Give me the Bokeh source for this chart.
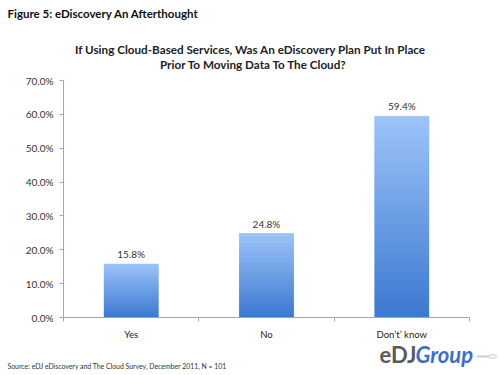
from bokeh.plotting import figure
from bokeh.layouts import column
from bokeh.models import Range1d, FixedTicker, PrintfTickFormatter, Label, ColumnDataSource
from bokeh.embed import file_html
from bokeh.resources import INLINE

# ---- data ----
categories = ["Yes", "No", "Don\u2019t\u2019 know"]
values = [15.8, 24.8, 59.4]
value_labels = ["15.8%", "24.8%", "59.4%"]
y_ticks = [0, 10, 20, 30, 40, 50, 60, 70]

FONT = "Lato"
BAR_W = 0.4
N_SLICES = 60
TOP_RGB = (158, 197, 250)
BOT_RGB = (60, 121, 208)
W = 500


def blank(height, y0, y1):
    f = figure(width=W, height=height, x_range=Range1d(0, W), y_range=Range1d(y1, y0),
               output_backend="svg", toolbar_location=None, min_border=0, frame_align=False)
    f.xaxis.visible = False
    f.yaxis.visible = False
    f.xgrid.grid_line_color = None
    f.ygrid.grid_line_color = None
    f.outline_line_color = None
    return f


def lab(fig, text, x, y, size, bold=False, italic=False, color="#222222", align="left"):
    style = "bold italic" if (bold and italic) else ("bold" if bold else ("italic" if italic else "normal"))
    fig.add_layout(Label(x=x, y=y, text=text, text_font=FONT, text_font_size=size,
                         text_font_style=style, text_color=color, text_align=align,
                         text_baseline="middle"))


# ---- header ----
head = blank(72, 0, 72)
lab(head, "Figure 5: eDiscovery An Afterthought", 7, 13, "11.5px", bold=True, color="#111111")
lab(head, "If Using Cloud-Based Services, Was An eDiscovery Plan Put In Place", 250, 48, "11.7px", bold=True, align="center")
lab(head, "Prior To Moving Data To The Cloud?", 253, 63, "11.7px", bold=True, align="center")

# ---- main chart ----
xs = [i + 0.5 for i in range(len(categories))]
p = figure(width=W, height=270, x_range=Range1d(0, 3), y_range=Range1d(0, 70),
           output_backend="svg", toolbar_location=None, frame_align=False,
           min_border_left=63, min_border_right=31, min_border_top=8, min_border_bottom=24)
p.outline_line_color = None
p.xgrid.grid_line_color = None
p.ygrid.grid_line_color = None

src = ColumnDataSource(dict(x=xs, top=values, lab=value_labels))
p.vbar(x="x", top="top", width=BAR_W, source=src, fill_color="#6a9de6", line_color=None)

# vertical gradient overlay built from the same values
gl, gr, gb, gt, gc = [], [], [], [], []
for x, v in zip(xs, values):
    for k in range(N_SLICES):
        f = k / (N_SLICES - 1)
        c = tuple(int(BOT_RGB[j] + (TOP_RGB[j] - BOT_RGB[j]) * f) for j in range(3))
        gl.append(x - BAR_W / 2)
        gr.append(x + BAR_W / 2)
        gb.append(v * k / N_SLICES)
        gt.append(v * (k + 1) / N_SLICES)
        gc.append("#%02x%02x%02x" % c)
p.quad(left=gl, right=gr, bottom=gb, top=gt, fill_color=gc, line_color=gc, line_width=0.5)

p.text(x="x", y="top", text="lab", source=src, text_align="center", text_baseline="bottom",
       y_offset=-4, text_font_size="10px", text_color="#333333", text_font={"value": FONT})

AX = "#a6a6a6"
yax = p.yaxis[0]
yax.ticker = FixedTicker(ticks=y_ticks, minor_ticks=[])
yax.formatter = PrintfTickFormatter(format="%.1f%%")
yax.axis_line_color = AX
yax.major_tick_line_color = AX
yax.major_tick_out = 4
yax.major_tick_in = 0
yax.minor_tick_out = 0
yax.major_label_text_font = FONT
yax.major_label_text_font_size = "10px"
yax.major_label_text_color = "#333333"
yax.major_label_standoff = 6

xax = p.xaxis[0]
xax.ticker = FixedTicker(ticks=xs, minor_ticks=[0, 1, 2, 3])
xax.major_label_overrides = {x: c for x, c in zip(xs, categories)}
xax.axis_line_color = AX
xax.major_tick_line_color = None
xax.major_tick_out = 0
xax.major_tick_in = 0
xax.minor_tick_line_color = AX
xax.minor_tick_out = 4
xax.minor_tick_in = 0
xax.major_label_text_font = FONT
xax.major_label_text_font_size = "9.5px"
xax.major_label_text_color = "#222222"
xax.major_label_standoff = 7

# ---- footer ----
foot = blank(33, 342, 375)
lab(foot, "Source: eDJ eDiscovery and The Cloud Survey, December 2011, N = 101", 7, 365, "6.9px", color="#333333")
lab(foot, "eDJ", 379, 354, "22px", bold=True, color="#5a5a5a")
lab(foot, "Group", 415, 354, "22px", bold=True, italic=True, color="#3e6fc8")
foot.segment(x0=[476], y0=[356], x1=[490], y1=[356], line_color="#d0d0d0", line_width=2)
foot.ellipse(x=[492], y=[356], width=8, height=4, fill_color="#f2f2f2", line_color="#cfcfcf")

layout = column(head, p, foot, spacing=0)
open("out.html", "w").write(file_html(layout, INLINE))
